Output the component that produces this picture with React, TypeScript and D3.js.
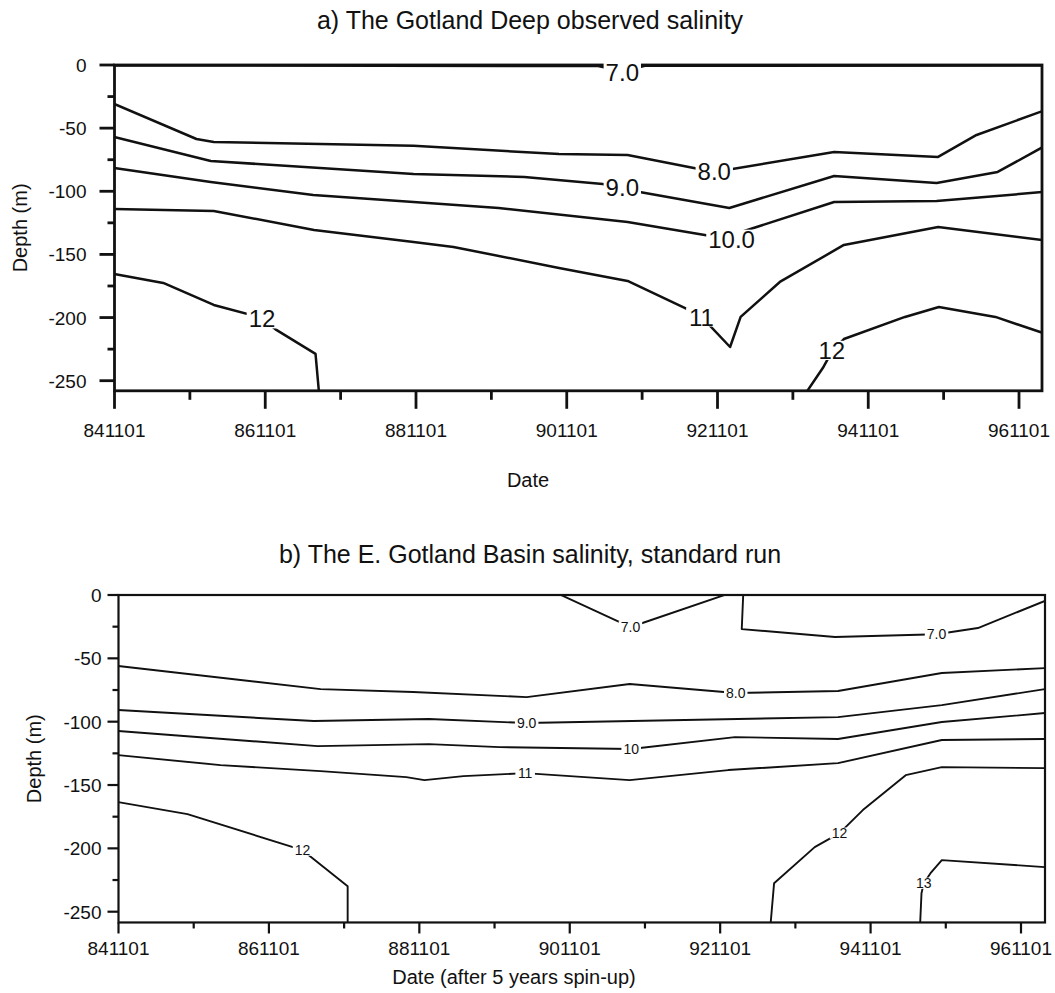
import React from "react";
import * as d3 from "d3";

// ---------- shared axis data ----------
const majorYears = [1984.833, 1986.833, 1988.833, 1990.833, 1992.833, 1994.833, 1996.833];
const majorLabels = ["841101", "861101", "881101", "901101", "921101", "941101", "961101"];
const minorYears = [1985.833, 1987.833, 1989.833, 1991.833, 1993.833, 1995.833];
const depthMajor = [0, -50, -100, -150, -200, -250];
const depthMinor = [-25, -75, -125, -175, -225];

// ---------- a) observed (year, depth) ----------
const a70 = [[1984.83, -0.3], [1991.25, -0.8], [1991.57, -5], [1991.87, -0.6], [1997.15, -0.3]];
const a80 = [[1984.83, -30.9], [1985.92, -58.6], [1986.15, -61], [1988.8, -64], [1990.73, -70.5], [1991.64, -71.3], [1992.79, -84.7], [1994.38, -68.9], [1995.76, -72.8], [1996.27, -55.4], [1997.15, -36.4]];
const a90 = [[1984.83, -57], [1986.11, -76], [1988.8, -86.3], [1990.27, -88.7], [1991.31, -94.2], [1991.8, -100.6], [1992.99, -113.2], [1994.38, -87.9], [1995.74, -93.4], [1996.55, -84.7], [1997.15, -64.9]];
const a100 = [[1984.83, -81.6], [1986.11, -92.6], [1987.47, -102.9], [1988.8, -108.5], [1989.93, -113.2], [1991.64, -124.3], [1992.9, -137], [1994.38, -108.5], [1995.74, -107.7], [1997.15, -100.6]];
const a110 = [[1984.83, -114], [1986.15, -115.6], [1987.48, -130.6], [1988.8, -140.1], [1989.33, -144.1], [1990.73, -160.7], [1991.64, -171], [1992.6, -198], [1993.0, -223.3], [1993.14, -199.5], [1993.66, -171.8], [1994.51, -142.5], [1995.76, -128.3], [1997.15, -138.6]];
const a120L = [[1984.83, -165.5], [1985.48, -172.6], [1986.15, -190], [1986.79, -200.3], [1986.98, -209.8], [1987.5, -228.8], [1987.55, -262]];
const a120R = [[1993.98, -262], [1994.23, -240], [1994.35, -227], [1994.51, -217], [1995.32, -199.5], [1995.77, -191.6], [1996.52, -199.5], [1997.15, -212.2]];

const contoursA = [
  { text: "7.0", pts: a70, label: [1991.57, -5.5] },
  { text: "8.0", pts: a80, label: [1992.79, -84.5] },
  { text: "9.0", pts: a90, label: [1991.57, -97] },
  { text: "10.0", pts: a100, label: [1993.02, -138] },
  { text: "11", pts: a110, label: [1992.62, -199.5] },
  { text: "12", pts: a120L, label: [1986.79, -201] },
  { text: "12", pts: a120R, label: [1994.35, -226] },
];

// ---------- b) model (year, depth) ----------
const b70a = [[1990.68, 1], [1991.49, -21.3], [1991.64, -25], [1991.8, -22.1], [1992.94, 1]];
const b70b = [[1993.14, 1], [1993.12, -26.9], [1994.36, -33.2], [1995.71, -31], [1996.26, -26.1], [1997.15, -4.7]];
const b80 = [[1984.83, -56.1], [1987.52, -74.3], [1988.75, -76.6], [1990.26, -80.6], [1991.63, -70.3], [1993.04, -77.4], [1994.4, -75.8], [1995.78, -61.6], [1997.15, -57.7]];
const b90 = [[1984.83, -90.8], [1987.43, -99.5], [1988.96, -97.9], [1990.26, -101.1], [1994.4, -96.4], [1995.78, -86.9], [1997.15, -74.3]];
const b100 = [[1984.83, -107.4], [1987.48, -119.3], [1988.96, -117.7], [1989.9, -120.1], [1991.65, -121.6], [1993.03, -112.2], [1994.4, -113.7], [1995.78, -100.3], [1997.15, -93.2]];
const b110 = [[1984.83, -126.4], [1986.19, -134.3], [1987.52, -139], [1988.66, -143.8], [1988.9, -146.1], [1989.42, -143], [1990.24, -140.6], [1991.63, -146.1], [1992.94, -138.2], [1994.4, -132.7], [1995.78, -114.5], [1997.15, -113.7]];
const b120L = [[1984.83, -163.5], [1985.75, -173], [1987.28, -201.4], [1987.88, -229.9], [1987.88, -262]];
const b120R = [[1993.5, -262], [1993.55, -227.5], [1994.09, -199], [1994.42, -188], [1994.73, -169.8], [1995.3, -142.2], [1995.78, -135.9], [1997.15, -136.7]];
const b130 = [[1995.49, -262], [1995.51, -235.4], [1995.54, -227.5], [1995.63, -219.6], [1995.78, -209.3], [1997.15, -214.8]];

const contoursB = [
  { text: "7.0", pts: b70a, label: [1991.64, -25] },
  { text: "7.0", pts: b70b, label: [1995.71, -30.5] },
  { text: "8.0", pts: b80, label: [1993.04, -77.4] },
  { text: "9.0", pts: b90, label: [1990.26, -101.1] },
  { text: "10", pts: b100, label: [1991.65, -121.6] },
  { text: "11", pts: b110, label: [1990.24, -140.6] },
  { text: "12", pts: b120L, label: [1987.28, -201.4] },
  { text: "12", pts: b120R, label: [1994.42, -188] },
  { text: "13", pts: b130, label: [1995.54, -227.5] },
];

const FONT = "'Liberation Sans', Arial, Helvetica, sans-serif";

function textWidth(s: string, fs: number) {
  let w = 0;
  for (const c of s) w += c === "." ? 0.278 : 0.556;
  return w * fs;
}

type PanelProps = {
  id: string;
  contours: { text: string; pts: number[][]; label: number[] }[];
  xr: [number, number];
  right: number;
  yr: [number, number];
  bottomDepth: number;
  title: string;
  titleY: number;
  xTitle: string;
  xTitleX: number;
  xTitleY: number;
  yTitleX: number;
  frameW: number;
  lineW: number;
  labelFs: number;
  majLenX: number;
  minLenX: number;
  majLenY: number;
  minLenY: number;
  xLabelY: number;
  yLabelGap: number;
};

function Panel(p: PanelProps) {
  const x = d3.scaleLinear().domain([1984.833, 1996.833]).range(p.xr);
  const y = d3.scaleLinear().domain([0, -250]).range(p.yr);
  const left = p.xr[0];
  const top = y(0);
  const bottom = y(p.bottomDepth);
  const right = p.right;
  const line = d3
    .line<number[]>()
    .x((d) => x(d[0]))
    .y((d) => y(d[1]));
  const clipId = "clip-" + p.id;
  return (
    <g>
      <defs>
        <clipPath id={clipId}>
          <rect x={left} y={top} width={right - left} height={bottom - top} />
        </clipPath>
      </defs>
      <text x={530} y={p.titleY} textAnchor="middle" fontSize={25} fontFamily={FONT} fill="#111">
        {p.title}
      </text>
      {/* contours */}
      <g clipPath={`url(#${clipId})`}>
        {p.contours.map((c, i) => (
          <path key={i} d={line(c.pts) || ""} fill="none" stroke="#111" strokeWidth={p.lineW} strokeLinejoin="round" />
        ))}
      </g>
      {/* frame */}
      <rect x={left} y={top} width={right - left} height={bottom - top} fill="none" stroke="#111" strokeWidth={p.frameW} />
      {/* contour labels */}
      {p.contours.map((c, i) => {
        const cx = x(c.label[0]);
        const cy = y(c.label[1]);
        const w = textWidth(c.text, p.labelFs) + 4;
        const h = p.labelFs * 0.8;
        return (
          <g key={"l" + i}>
            <rect x={cx - w / 2} y={cy - h / 2} width={w} height={h} fill="#fff" />
            <text x={cx} y={cy + p.labelFs * 0.36} textAnchor="middle" fontSize={p.labelFs} fontFamily={FONT} fill="#111">
              {c.text}
            </text>
          </g>
        );
      })}
      {/* y ticks */}
      {depthMajor.map((d) => (
        <g key={"ym" + d}>
          <line x1={left - p.majLenY} x2={left} y1={y(d)} y2={y(d)} stroke="#111" strokeWidth={p.frameW} />
          <text x={left - p.majLenY - p.yLabelGap} y={y(d) + 7} textAnchor="end" fontSize={19} fontFamily={FONT} fill="#111">
            {d}
          </text>
        </g>
      ))}
      {depthMinor.map((d) => (
        <line key={"yn" + d} x1={left - p.minLenY} x2={left} y1={y(d)} y2={y(d)} stroke="#111" strokeWidth={p.frameW} />
      ))}
      {/* x ticks */}
      {majorYears.map((yr, i) => (
        <g key={"xm" + i}>
          <line x1={x(yr)} x2={x(yr)} y1={bottom} y2={bottom + p.majLenX} stroke="#111" strokeWidth={p.frameW} />
          <text x={x(yr)} y={p.xLabelY} textAnchor="middle" fontSize={19} fontFamily={FONT} fill="#111">
            {majorLabels[i]}
          </text>
        </g>
      ))}
      {minorYears.map((yr, i) => (
        <line key={"xn" + i} x1={x(yr)} x2={x(yr)} y1={bottom} y2={bottom + p.minLenX} stroke="#111" strokeWidth={p.frameW} />
      ))}
      {/* axis titles */}
      <text x={p.xTitleX} y={p.xTitleY} textAnchor="middle" fontSize={20} fontFamily={FONT} fill="#111">
        {p.xTitle}
      </text>
      <text
        transform={`translate(${p.yTitleX},${(top + bottom) / 2}) rotate(-90)`}
        textAnchor="middle"
        fontSize={20}
        fontFamily={FONT}
        fill="#111"
      >
        Depth (m)
      </text>
    </g>
  );
}

export default function App() {
  return (
    <svg width={1055} height={993} style={{ position: "absolute", left: 0, top: 0, background: "#fff" }}>
      <rect width={1055} height={993} fill="#fff" />
      <Panel
        id="a"
        contours={contoursA}
        xr={[114.5, 1019]}
        right={1042}
        yr={[65, 380.7]}
        bottomDepth={-258}
        title="a) The Gotland Deep observed salinity"
        titleY={29}
        xTitle="Date"
        xTitleX={528}
        xTitleY={487}
        yTitleX={27}
        frameW={2.8}
        lineW={2.5}
        labelFs={24}
        majLenX={18}
        minLenX={9}
        majLenY={15}
        minLenY={7}
        xLabelY={437}
        yLabelGap={13}
      />
      <Panel
        id="b"
        contours={contoursB}
        xr={[118.5, 1021]}
        right={1045}
        yr={[595, 911.7]}
        bottomDepth={-258.5}
        title="b) The E. Gotland Basin salinity, standard run"
        titleY={563}
        xTitle="Date (after 5 years spin-up)"
        xTitleX={514}
        xTitleY={984}
        yTitleX={41}
        frameW={2.2}
        lineW={1.9}
        labelFs={14}
        majLenX={11}
        minLenX={6}
        majLenY={11}
        minLenY={6}
        xLabelY={955}
        yLabelGap={6}
      />
    </svg>
  );
}
